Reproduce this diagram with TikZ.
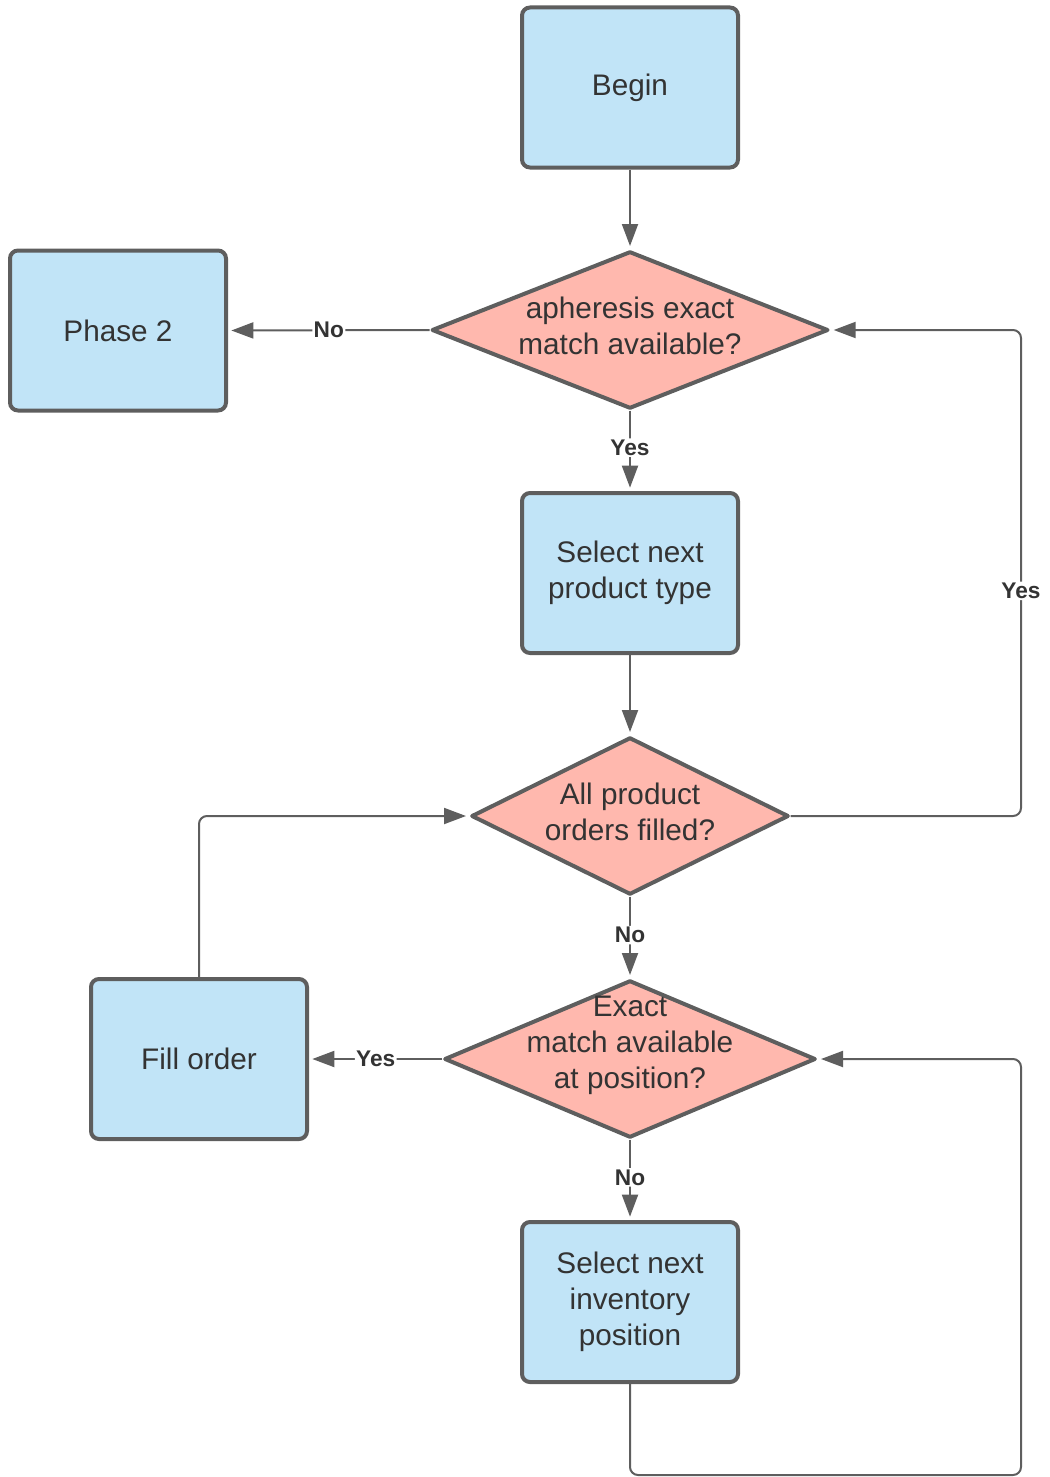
\documentclass[tikz,border=0pt]{standalone}
\usepackage{fontspec}
\setmainfont{Liberation Sans}
\usetikzlibrary{shapes.geometric,arrows.meta}
\definecolor{boxfill}{HTML}{C1E4F7}
\definecolor{decfill}{HTML}{FFB8AE}
\definecolor{edge}{HTML}{5E5E5E}
\definecolor{ink}{HTML}{333333}
\tikzset{
  stepbox/.style={draw=edge, fill=boxfill, line width=3pt, rounded corners=6pt,
    minimum width=162pt, minimum height=120pt, inner sep=0pt,
    align=center, text=ink, font=\fontsize{22.3}{27}\selectfont},
  decision/.style={draw=edge, fill=decfill, line width=3pt, shape=diamond,
    line join=round, inner sep=0pt, minimum height=118pt},
  dtext/.style={align=center, text=ink, font=\fontsize{22.3}{27}\selectfont, inner sep=0pt},
  conn/.style={draw=edge, line width=1.5pt, rounded corners=6pt,
    -{Triangle[length=16.5pt,width=12pt]}, shorten >=2.5pt},
  elabel/.style={fill=white, inner sep=1pt, text=ink, font=\fontsize{17}{19}\bfseries\selectfont}
}
\begin{document}
\begin{tikzpicture}[x=0.75pt, y=-0.75pt]
\useasboundingbox (0,0) rectangle (1049,1477);

% process boxes
\node[stepbox] (begin) at (630,87.5) {Begin};
\node[stepbox] (phase) at (118,330.5) {Phase 2};
\node[stepbox] (prod) at (630,573) {Select next\\product type};
\node[stepbox] (fill) at (199,1059) {Fill order};
\node[stepbox] (inv) at (630,1302) {Select next\\inventory\\position};

% decisions
\node[decision, minimum width=297.5pt] (apher) at (630,330) {};
\node[dtext] (apherT) at (630,326) {apheresis exact\\match available?};
\node[decision, minimum width=238pt] (all) at (630,816) {};
\node[dtext] (allT) at (630,812) {All product\\orders filled?};
\node[decision, minimum width=278.5pt] (exact) at (630,1059) {};
\node[dtext] (exactT) at (630,1045) {Exact\\match available\\at position?};

% corner points of the loops
\coordinate (rTop) at (1021,330);
\coordinate (rMid) at (1021,816);
\coordinate (lMid) at (199,816);
\coordinate (bL) at (630,1475);
\coordinate (bR) at (1021,1475);
\coordinate (rLow) at (1021,1059);

% connectors
\draw[conn] (begin.south) -- (apher.north);
\draw[conn] (apher.west) -- node[elabel] {No} (phase.east);
\draw[conn] (apher.south) -- node[elabel, pos=0.46] {Yes} (prod.north);
\draw[conn] (prod.south) -- (all.north);
\draw[conn] (all.east) -- (rMid) -- node[elabel, pos=0.463] {Yes} (rTop) -- (apher.east);
\draw[conn] (all.south) -- node[elabel, pos=0.47] {No} (exact.north);
\draw[conn] (exact.west) -- node[elabel] {Yes} (fill.east);
\draw[conn] (fill.north) -- (lMid) -- (all.west);
\draw[conn] (exact.south) -- node[elabel, pos=0.47] {No} (inv.north);
\draw[conn] (inv.south) -- (bL) -- (bR) -- (rLow) -- (exact.east);
\end{tikzpicture}
\end{document}
